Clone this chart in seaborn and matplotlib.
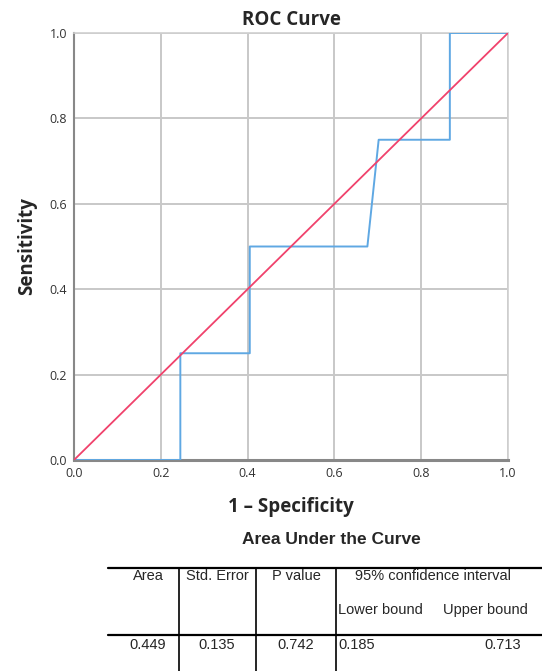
import matplotlib
matplotlib.use("Agg")
import matplotlib.pyplot as plt
import pandas as pd
import seaborn as sns
from matplotlib.lines import Line2D

# ROC curve points
fpr = [0.0, 0.245, 0.245, 0.405, 0.405, 0.676, 0.702, 0.866, 0.866, 1.0]
tpr = [0.0, 0.0, 0.25, 0.25, 0.5, 0.5, 0.75, 0.75, 1.0, 1.0]
ref_x = [0.0, 1.0]
ref_y = [0.0, 1.0]
ticks = [0.0, 0.2, 0.4, 0.6, 0.8, 1.0]

# AUC table
table_headers = ["Area", "Std. Error", "P value"]
ci_header = "95% confidence interval"
ci_subheaders = ["Lower bound", "Upper bound"]
auc_values = ["0.449", "0.135", "0.742"]
ci_values = ["0.185", "0.713"]

W, H = 542, 671

sns.set_theme(style="whitegrid")
plt.rcParams["font.family"] = ["Open Sans", "DejaVu Sans"]

fig = plt.figure(figsize=(W / 100, H / 100), dpi=100)
ax = fig.add_axes([74 / W, 1 - 460 / H, 434 / W, 427 / H])

roc_df = pd.DataFrame({"fpr": fpr, "tpr": tpr})
ref_df = pd.DataFrame({"x": ref_x, "y": ref_y})
sns.lineplot(data=roc_df, x="fpr", y="tpr", sort=False, estimator=None,
             color="#5FA8E3", linewidth=1.4, ax=ax, zorder=3)
sns.lineplot(data=ref_df, x="x", y="y", sort=False, estimator=None,
             color="#F0426C", linewidth=1.3, ax=ax, zorder=4)

ax.set_xlim(0, 1)
ax.set_ylim(0, 1)
ax.set_xticks(ticks)
ax.set_yticks(ticks)
ax.set_xticklabels([f"{t:.1f}" for t in ticks])
ax.set_yticklabels([f"{t:.1f}" for t in ticks])
ax.tick_params(labelsize=9, colors="#333333", length=0)
ax.tick_params(axis="x", pad=5)
ax.tick_params(axis="y", pad=5)
ax.grid(True, color="#c8c8c8", linewidth=1.4)
for side in ["top", "right"]:
    ax.spines[side].set_color("#d0d0d0")
    ax.spines[side].set_linewidth(1.2)
ax.spines["left"].set_color("#888888")
ax.spines["left"].set_linewidth(1.5)
ax.spines["bottom"].set_color("#888888")
ax.spines["bottom"].set_linewidth(2.2)

ax.set_title("ROC Curve", fontsize=13.5, fontweight="bold", pad=6)
ax.set_xlabel("1 – Specificity", fontsize=13.5, fontweight="bold", labelpad=12)
ax.set_ylabel("Sensitivity", fontsize=13.5, fontweight="bold", labelpad=9)

# table below the chart
tf = ["Liberation Sans", "DejaVu Sans"]
fs = 10.5


def fy(py):
    return 1 - py / H


def fx(px):
    return px / W


fig.text(fx(331), fy(540), "Area Under the Curve", family=tf, fontsize=12.5,
         fontweight="bold", ha="center", va="center")

lw = 1.6
fig.add_artist(Line2D([fx(108), fx(542)], [fy(568), fy(568)], color="black", lw=lw))
fig.add_artist(Line2D([fx(108), fx(542)], [fy(635), fy(635)], color="black", lw=lw))
for vx in [179, 256, 336]:
    fig.add_artist(Line2D([fx(vx), fx(vx)], [fy(568), fy(671)], color="black", lw=1.2))

col_centers = [148, 217, 296]
for cx, hdr, val in zip(col_centers, table_headers, auc_values):
    fig.text(fx(cx), fy(576), hdr, family=tf, fontsize=fs, ha="center", va="center")
    fig.text(fx(cx), fy(645), val, family=tf, fontsize=fs, ha="center", va="center")

fig.text(fx(433), fy(576), ci_header, family=tf, fontsize=fs, ha="center", va="center")
fig.text(fx(338), fy(610), ci_subheaders[0], family=tf, fontsize=fs, ha="left", va="center")
fig.text(fx(528), fy(610), ci_subheaders[1], family=tf, fontsize=fs, ha="right", va="center")
fig.text(fx(338), fy(645), ci_values[0], family=tf, fontsize=fs, ha="left", va="center")
fig.text(fx(521), fy(645), ci_values[1], family=tf, fontsize=fs, ha="right", va="center")

fig.savefig("out.png", dpi=100, facecolor="white")
